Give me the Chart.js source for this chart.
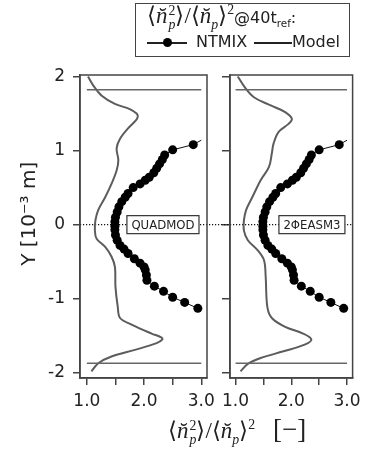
<!DOCTYPE html>
<html>
<head>
<meta charset="utf-8">
<script src="https://cdn.jsdelivr.net/npm/chart.js@4.4.1/dist/chart.umd.min.js"></script>
<style>
  html, body { margin: 0; padding: 0; background: #fff; }
  #wrap { position: relative; width: 367px; height: 452px; overflow: hidden; background: #fff; }
  canvas { position: absolute; top: 0; }
  #legend {
    position: absolute; left: 135px; top: 3px; width: 215px; height: 54px;
    box-sizing: border-box; border: 1.5px solid #444; background: #fff; color: #222;
    font-family: 'DejaVu Sans', sans-serif; font-size: 16px;
  }
  #legend .row1 { position: absolute; left: 11px; top: -2px; white-space: nowrap; }
  #legend .row1 .m { font-size: 23px; }
  #legend .seg { position: absolute; top: 38px; height: 1.6px; background: #222; }
  #legend .dot { position: absolute; top: 34px; width: 9px; height: 9px; border-radius: 50%; background: #000; }
  #legend .lbl { position: absolute; top: 28px; }
  .m { font-family: 'Liberation Serif', serif; font-size: 21px; }
  .m i { font-style: italic; }
  .ss { display: inline-flex; flex-direction: column; vertical-align: middle; font-size: 0.6em; line-height: 1; margin-left: 1px; }
  .ss span { display: block; }
  .m sub, .m sup { font-size: 0.6em; }
  .s sub { font-size: 0.65em; }
  #xtitle { position: absolute; left: 168px; top: 414px; white-space: nowrap; color: #222; }
  #xtitle .m { font-size: 23px; }
  #xtitle .br { font-family: 'Liberation Serif', serif; font-size: 27px; margin-left: 18px; }
</style>
</head>
<body>
<div id="wrap">
  <canvas id="leftPanel" width="240" height="418" style="left:0px"></canvas>
  <canvas id="rightPanel" width="167" height="418" style="left:200px"></canvas>
  <div id="legend">
    <div class="row1"><span class="m">⟨<i>n̆</i><span class="ss"><span>2</span><span><i>p</i></span></span>⟩/⟨<i>n̆</i><sub><i>p</i></sub>⟩<sup>2</sup></span><span class="s">@40t<sub>ref</sub>:</span></div>
    <span class="seg" style="left:11px;width:40px"></span>
    <span class="dot" style="left:27px"></span>
    <span class="lbl" style="left:60px">NTMIX</span>
    <span class="seg" style="left:118px;width:38px"></span>
    <span class="lbl" style="left:156px">Model</span>
  </div>
  <div id="xtitle"><span class="m">⟨<i>n̆</i><span class="ss"><span>2</span><span><i>p</i></span></span>⟩/⟨<i>n̆</i><sub><i>p</i></sub>⟩<sup>2</sup></span><span class="br">[−]</span></div>
</div>
<script>
// axis ticks
const yTickValues = [-2, -1, 0, 1, 2];
const xTickValues = [1.0, 1.5, 2.0, 2.5, 3.0];
const xTickLabels = ["1.0", "", "2.0", "", "3.0"];

// panel names and where their boxes sit on the ratio axis
const panelNames = ["QUADMOD", "2ΦEASM3"];
const panelLabelAt = [2.33, 2.37];

// horizontal wall lines (Y) and their extent in ratio
const wallLevels = [1.82, -1.87];
const wallSpan = [1.0, 3.0];

// NTMIX (same in both panels); first point carries no marker
const ntmixRatio = [3.00, 2.86, 2.50, 2.36, 2.32, 2.27, 2.22, 2.17, 2.09, 2.02, 1.93, 1.81, 1.72, 1.67, 1.61, 1.56, 1.53, 1.50, 1.49,
  1.49, 1.49, 1.50, 1.53, 1.58, 1.65, 1.72, 1.83, 1.93, 2.00, 2.02, 2.04, 2.05, 2.18, 2.34, 2.50, 2.71, 2.94];
const ntmixY = [1.14, 1.08, 1.01, 0.94, 0.88, 0.82, 0.76, 0.70, 0.64, 0.60, 0.55, 0.50, 0.42, 0.37, 0.31, 0.24, 0.17, 0.10, 0.04,
  -0.02, -0.07, -0.14, -0.21, -0.28, -0.33, -0.39, -0.46, -0.52, -0.57, -0.61, -0.68, -0.75, -0.83, -0.90, -0.98, -1.05, -1.13];

// Model, QUADMOD panel
const quadmodRatio = [1.02, 1.11, 1.26, 1.49, 1.75, 1.87, 1.89, 1.86, 1.72, 1.58, 1.52, 1.55, 1.52, 1.43, 1.32, 1.20, 1.15, 1.14,
  1.17, 1.32, 1.43, 1.49, 1.50, 1.54, 1.58, 1.78, 2.13, 2.30, 2.32, 2.22, 1.84, 1.43, 1.20, 1.08];
const quadmodY = [2.00, 1.88, 1.74, 1.63, 1.56, 1.50, 1.46, 1.41, 1.30, 1.16, 1.03, 0.87, 0.73, 0.55, 0.37, 0.20, 0.06, -0.08,
  -0.19, -0.30, -0.43, -0.57, -0.84, -1.11, -1.26, -1.35, -1.47, -1.52, -1.55, -1.60, -1.69, -1.78, -1.87, -1.98];

// Model, 2PhiEASM3 panel
const easmRatio = [1.04, 1.16, 1.33, 1.63, 1.89, 2.01, 1.95, 1.77, 1.68, 1.65, 1.60, 1.45, 1.30, 1.19, 1.15, 1.15, 1.22, 1.39,
  1.51, 1.54, 1.57, 1.65, 1.89, 2.21, 2.36, 2.24, 1.86, 1.45, 1.22, 1.09];
const easmY = [2.00, 1.86, 1.72, 1.61, 1.52, 1.43, 1.36, 1.25, 1.09, 0.96, 0.78, 0.60, 0.37, 0.20, 0.06, -0.08, -0.21, -0.34,
  -0.48, -0.70, -1.11, -1.26, -1.38, -1.47, -1.55, -1.62, -1.71, -1.80, -1.88, -1.98];

const FONT = "'DejaVu Sans', sans-serif";
const AXIS = "#444";

function zip(xs, ys) {
  return xs.map((v, i) => ({ x: v, y: ys[i] }));
}

// frame, dotted zero line and panel name box
const panelDecor = {
  id: "panelDecor",
  beforeDatasetsDraw(chart, args, opts) {
    const { ctx, chartArea: a, scales } = chart;
    const y0 = scales.y.getPixelForValue(0);
    ctx.save();
    ctx.strokeStyle = "#111";
    ctx.lineWidth = 1.2;
    ctx.setLineDash([1.2, 1.8]);
    ctx.beginPath();
    ctx.moveTo(a.left - opts.extendLeft, y0);
    ctx.lineTo(a.right + opts.extendRight, y0);
    ctx.stroke();
    ctx.restore();
  },
  afterDatasetsDraw(chart, args, opts) {
    const { ctx, chartArea: a, scales } = chart;
    const cx = scales.x.getPixelForValue(opts.at);
    const cy = scales.y.getPixelForValue(0);
    ctx.save();
    ctx.font = "13px 'Liberation Sans Narrow', 'DejaVu Sans Condensed', sans-serif";
    const w = ctx.measureText(opts.text).width + 9;
    ctx.fillStyle = "#fff";
    ctx.fillRect(cx - w / 2, cy - 9, w, 18);
    ctx.strokeStyle = "#333";
    ctx.lineWidth = 1.2;
    ctx.strokeRect(cx - w / 2, cy - 9, w, 18);
    ctx.fillStyle = "#222";
    ctx.textAlign = "center";
    ctx.textBaseline = "middle";
    ctx.fillText(opts.text, cx, cy + 1);
    ctx.strokeStyle = AXIS;
    ctx.lineWidth = 1.5;
    ctx.strokeRect(a.left, a.top, a.width, a.height);
    ctx.restore();
  },
};

function makePanel(id, k, modelRatio, modelY, first) {
  const ctx = document.getElementById(id).getContext("2d");
  return new Chart(ctx, {
    type: "scatter",
    data: {
      datasets: [
        ...wallLevels.map((lv) => ({
          data: wallSpan.map((v) => ({ x: v, y: lv })),
          showLine: true,
          borderColor: "#666",
          borderWidth: 1.5,
          pointRadius: 0,
        })),
        {
          label: "Model",
          data: zip(modelRatio, modelY),
          showLine: true,
          borderColor: "#5c5c5c",
          borderWidth: 2,
          tension: 0.35,
          pointRadius: 0,
        },
        {
          label: "NTMIX",
          data: zip(ntmixRatio, ntmixY),
          showLine: true,
          borderColor: "#111",
          borderWidth: 1,
          pointRadius: (c) => (c.dataIndex === 0 ? 0 : 4.5),
          pointBackgroundColor: "#000",
          pointBorderWidth: 0,
        },
      ],
    },
    options: {
      responsive: false,
      animation: false,
      layout: {
        padding: first
          ? { top: 75, right: 33, left: 0, bottom: 0 }
          : { top: 75, right: 10, left: 0, bottom: 0 },
      },
      plugins: {
        legend: { display: false },
        tooltip: { enabled: false },
        panelDecor: {
          text: panelNames[k],
          at: panelLabelAt[k],
          extendLeft: first ? 0 : 12,
          extendRight: first ? 11 : 0,
        },
      },
      scales: {
        x: {
          type: "linear",
          min: first ? 0.88 : 0.9,
          max: 3.1,
          afterBuildTicks: (s) => {
            s.ticks = xTickValues.map((v) => ({ value: v }));
          },
          afterFit: (s) => {
            s.height = 40;
          },
          ticks: {
            autoSkip: false,
            maxRotation: 0,
            color: "#222",
            padding: 6,
            font: { size: 17, family: FONT },
            callback: (value, index) => xTickLabels[index],
          },
          grid: { drawOnChartArea: false, drawTicks: true, tickLength: 7, color: AXIS, lineWidth: 1.5 },
          border: { display: true, color: AXIS, width: 1.5 },
        },
        y: {
          type: "linear",
          min: -2.07,
          max: 2.02,
          afterBuildTicks: (s) => {
            s.ticks = yTickValues.map((v) => ({ value: v }));
          },
          afterFit: (s) => {
            s.width = first ? 80 : 30;
          },
          ticks: {
            display: first,
            color: "#222",
            padding: 8,
            font: { size: 17, family: FONT },
          },
          grid: { drawOnChartArea: false, drawTicks: true, tickLength: first ? 7 : 8, color: AXIS, lineWidth: 1.5 },
          border: { display: true, color: AXIS, width: 1.5 },
          title: {
            display: first,
            text: "    Y [10⁻³ m]",
            color: "#222",
            font: { size: 20, family: FONT },
            padding: { top: 18, bottom: 0 },
          },
        },
      },
    },
    plugins: [panelDecor],
  });
}

makePanel("leftPanel", 0, quadmodRatio, quadmodY, true);
makePanel("rightPanel", 1, easmRatio, easmY, false);
</script>
</body>
</html>
